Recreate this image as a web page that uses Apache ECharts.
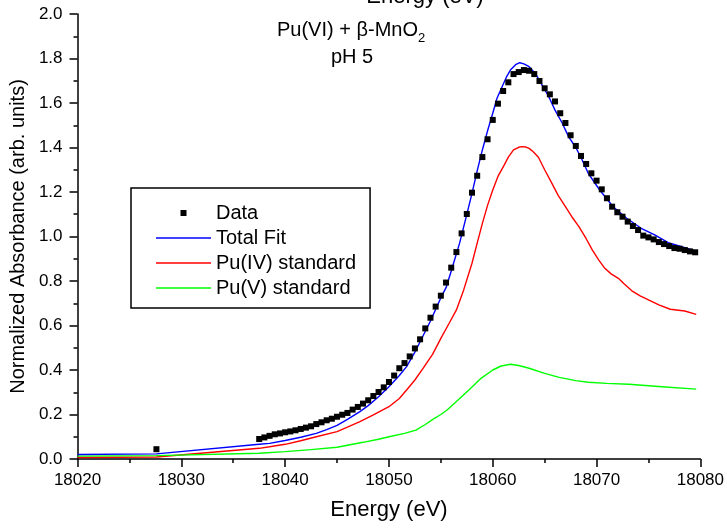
<!DOCTYPE html>
<html>
<head>
<meta charset="utf-8">
<script src="https://cdn.jsdelivr.net/npm/echarts@6/dist/echarts.min.js"></script>
<style>
  html, body { margin: 0; padding: 0; background: #fff; }
  #chart { width: 727px; height: 528px; }
</style>
</head>
<body>
<div id="chart"></div>
<script>
// measured points (black squares)
var dataE = [18027.6,
  18037.5, 18038.0, 18038.5, 18039.0, 18039.5, 18040.0, 18040.5, 18041.0, 18041.5, 18042.0,
  18042.5, 18043.0, 18043.5, 18044.0, 18044.5, 18045.0, 18045.5, 18046.0, 18046.5, 18047.0,
  18047.5, 18048.0, 18048.5, 18049.0, 18049.5, 18050.0, 18050.5, 18051.0, 18051.5, 18052.0,
  18052.5, 18053.0, 18053.5, 18054.0, 18054.5, 18055.0, 18055.5, 18056.0, 18056.5, 18057.0,
  18057.5, 18058.0, 18058.5, 18059.0, 18059.5, 18060.0, 18060.5, 18061.0, 18061.5, 18062.0,
  18062.5, 18063.0, 18063.5, 18064.0, 18064.5, 18065.0, 18065.5, 18066.0, 18066.5, 18067.0,
  18067.5, 18068.0, 18068.5, 18069.0, 18069.5, 18070.0, 18070.5, 18071.0, 18071.5, 18072.0,
  18072.5, 18073.0, 18073.5, 18074.0, 18074.5, 18075.0, 18075.5, 18076.0, 18076.5, 18077.0,
  18077.5, 18078.0, 18078.5, 18079.0, 18079.5];
var dataY = [0.044,
  0.090, 0.097, 0.104, 0.111, 0.115, 0.120, 0.124, 0.129, 0.135, 0.141,
  0.147, 0.157, 0.165, 0.174, 0.181, 0.190, 0.199, 0.207, 0.222, 0.234,
  0.249, 0.264, 0.283, 0.301, 0.322, 0.346, 0.375, 0.408, 0.431, 0.461,
  0.497, 0.538, 0.587, 0.635, 0.685, 0.734, 0.793, 0.860, 0.930, 1.014,
  1.101, 1.197, 1.273, 1.357, 1.437, 1.524, 1.597, 1.654, 1.693, 1.730,
  1.739, 1.748, 1.745, 1.730, 1.699, 1.666, 1.639, 1.607, 1.554, 1.510,
  1.455, 1.407, 1.362, 1.326, 1.284, 1.251, 1.212, 1.172, 1.134, 1.109,
  1.089, 1.067, 1.047, 1.029, 1.004, 0.996, 0.987, 0.975, 0.966, 0.957,
  0.948, 0.945, 0.939, 0.933, 0.929];

// total fit (blue)
var fitE = [18020, 18027.6, 18037.5, 18038.5, 18040, 18041.5, 18043, 18044, 18045, 18046,
  18047.2, 18048, 18049, 18050, 18051, 18051.7, 18052.5, 18053, 18054, 18055,
  18055.5, 18056, 18056.8, 18057.4, 18058, 18058.5, 18059, 18059.5, 18060, 18060.4,
  18060.9, 18061.3, 18061.7, 18062.2, 18062.6, 18063, 18063.5, 18064.1, 18064.7, 18065.4,
  18066, 18066.7, 18067.3, 18068, 18068.5, 18069.2, 18070.3, 18071.6, 18072.9, 18074.3,
  18075.6, 18076.9, 18078.2, 18079.6];
var fitY = [0.020, 0.023, 0.066, 0.070, 0.083, 0.098, 0.115, 0.132, 0.151, 0.178,
  0.213, 0.240, 0.280, 0.325, 0.375, 0.415, 0.480, 0.527, 0.620, 0.725,
  0.770, 0.845, 0.969, 1.080, 1.194, 1.295, 1.389, 1.475, 1.554, 1.620,
  1.673, 1.715, 1.748, 1.772, 1.781, 1.776, 1.763, 1.733, 1.685, 1.628,
  1.568, 1.509, 1.449, 1.400, 1.355, 1.284, 1.209, 1.134, 1.082, 1.037,
  1.007, 0.972, 0.954, 0.934];

// Pu(IV) standard (red)
var pu4E = [18020, 18027.6, 18037.5, 18038.5, 18040, 18041.5, 18043, 18045, 18046, 18047.2,
  18048.5, 18050, 18051, 18051.7, 18052.5, 18053.3, 18054.2, 18055, 18055.8, 18056.5,
  18057.2, 18058, 18058.5, 18059, 18059.5, 18060, 18060.5, 18061.1, 18061.5, 18062,
  18062.5, 18062.8, 18063.2, 18063.5, 18063.9, 18064.4, 18065, 18065.7, 18066.3, 18067,
  18067.6, 18068.3, 18069, 18069.6, 18070.2, 18070.8, 18071.4, 18072.1, 18072.7, 18073.4,
  18074.2, 18075, 18076, 18077.1, 18078.5, 18079.6];
var pu4Y = [0.007, 0.009, 0.048, 0.055, 0.066, 0.082, 0.100, 0.123, 0.143, 0.168,
  0.198, 0.235, 0.272, 0.310, 0.355, 0.408, 0.470, 0.542, 0.610, 0.670,
  0.760, 0.880, 0.970, 1.059, 1.140, 1.209, 1.270, 1.321, 1.357, 1.389,
  1.401, 1.404, 1.402, 1.396, 1.381, 1.356, 1.300, 1.239, 1.185, 1.134,
  1.090, 1.044, 0.990, 0.939, 0.895, 0.857, 0.832, 0.812, 0.785, 0.756,
  0.733, 0.715, 0.693, 0.673, 0.665, 0.650];

// Pu(V) standard (green)
var pu5E = [18020, 18027.6, 18037.5, 18040, 18042.5, 18045, 18047.5, 18049, 18050, 18051.5,
  18052.6, 18053.5, 18054.3, 18055, 18055.6, 18056.5, 18057.7, 18058.8, 18060, 18060.8,
  18061.7, 18062.5, 18063.5, 18065, 18066.4, 18068, 18069.2, 18071, 18073.1, 18076.3,
  18079.6];
var pu5Y = [0.013, 0.015, 0.026, 0.033, 0.042, 0.053, 0.075, 0.089, 0.100, 0.115,
  0.130, 0.155, 0.180, 0.200, 0.220, 0.258, 0.310, 0.360, 0.400, 0.418,
  0.426, 0.420, 0.408, 0.385, 0.367, 0.352, 0.345, 0.340, 0.336, 0.325,
  0.314];

var FONT = '"Liberation Sans", Arial, sans-serif';
var LINE_ICON = 'path://M0 0M55 20M0 9.3h55v1.4h-55z';

function pairs(xs, ys) {
  return xs.map(function (x, i) { return [x, ys[i]]; });
}

var chart = echarts.init(document.getElementById('chart'));

chart.setOption({
  animation: false,
  backgroundColor: '#fff',
  grid: { left: 77, right: 25, top: 14, bottom: 69 },
  xAxis: {
    type: 'value', min: 18020, max: 18080, interval: 10,
    name: 'Energy (eV)', nameLocation: 'middle', nameGap: 40,
    nameTextStyle: { fontFamily: FONT, fontSize: 22, color: '#000' },
    axisLine: { lineStyle: { color: '#000', width: 1.5 } },
    axisTick: { length: 8, lineStyle: { color: '#000', width: 1.5 } },
    minorTick: { show: true, splitNumber: 2, length: 4, lineStyle: { color: '#000', width: 1.5 } },
    axisLabel: {
      color: '#000', fontFamily: FONT, fontSize: 17, margin: 13,
      formatter: function (v) { return String(v); }
    },
    splitLine: { show: false }
  },
  yAxis: {
    type: 'value', min: 0, max: 2, interval: 0.2,
    name: 'Normalized Absorbance (arb. units)', nameLocation: 'middle', nameGap: 46, nameRotate: 90,
    nameTextStyle: { fontFamily: FONT, fontSize: 20, color: '#000' },
    axisLine: { show: true, lineStyle: { color: '#000', width: 1.5 } },
    axisTick: { show: true, length: 8, lineStyle: { color: '#000', width: 1.5 } },
    minorTick: { show: true, splitNumber: 2, length: 4, lineStyle: { color: '#000', width: 1.5 } },
    axisLabel: {
      color: '#000', fontFamily: FONT, fontSize: 17, margin: 15,
      formatter: function (v) { return v.toFixed(1); }
    },
    splitLine: { show: false }
  },
  legend: {
    orient: 'vertical', left: 131, top: 188,
    padding: [15, 14, 10, 25], itemGap: 5, itemWidth: 55, itemHeight: 20,
    borderColor: '#000', borderWidth: 1.5,
    textStyle: { fontFamily: FONT, fontSize: 20, color: '#000' },
    data: [
      { name: 'Data', icon: 'path://M0 0M55 20M24.5 7h6v6h-6z' },
      { name: 'Total Fit', icon: LINE_ICON },
      { name: 'Pu(IV) standard', icon: LINE_ICON },
      { name: 'Pu(V) standard', icon: LINE_ICON }
    ]
  },
  graphic: [
    { type: 'text', style: { text: 'Energy (eV)', x: 425, y: -3, align: 'center', verticalAlign: 'middle', font: '22px ' + FONT, fill: '#000' } },
    { type: 'text', style: { text: 'Pu(VI) + β-MnO', x: 277, y: 30, align: 'left', verticalAlign: 'middle', font: '20px ' + FONT, fill: '#000' } },
    { type: 'text', style: { text: '2', x: 418, y: 38, align: 'left', verticalAlign: 'middle', font: '13px ' + FONT, fill: '#000' } },
    { type: 'text', style: { text: 'pH 5', x: 352, y: 57, align: 'center', verticalAlign: 'middle', font: '20px ' + FONT, fill: '#000' } }
  ],
  series: [
    { name: 'Total Fit', type: 'line', data: pairs(fitE, fitY), showSymbol: false, symbol: 'none',
      lineStyle: { color: '#0000ff', width: 1.4 }, itemStyle: { color: '#0000ff' }, z: 3 },
    { name: 'Pu(IV) standard', type: 'line', data: pairs(pu4E, pu4Y), showSymbol: false, symbol: 'none',
      lineStyle: { color: '#ff0000', width: 1.4 }, itemStyle: { color: '#ff0000' }, z: 2 },
    { name: 'Pu(V) standard', type: 'line', data: pairs(pu5E, pu5Y), showSymbol: false, symbol: 'none',
      lineStyle: { color: '#00ff00', width: 1.4 }, itemStyle: { color: '#00ff00' }, z: 2 },
    { name: 'Data', type: 'scatter', data: pairs(dataE, dataY), symbol: 'rect', symbolSize: 6,
      itemStyle: { color: '#000', opacity: 1 }, z: 4 }
  ]
});
</script>
</body>
</html>
